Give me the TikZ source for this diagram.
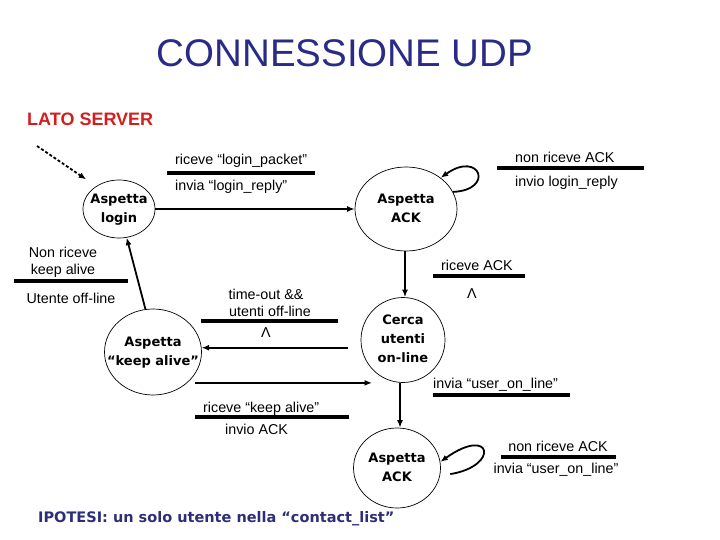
\documentclass[tikz,border=0pt]{standalone}
\usepackage{fontspec}
\setmainfont{Liberation Sans}
\newfontfamily\djv{DejaVu Sans}
\usetikzlibrary{shapes.geometric,arrows.meta}
\definecolor{navy}{RGB}{42,42,135}
\definecolor{ipnavy}{RGB}{45,45,120}
\definecolor{srvred}{RGB}{212,30,30}
\newcommand{\stt}[1]{\makebox[0pt]{\begin{tabular}{@{}c@{}}#1\end{tabular}}}
\tikzset{
  st/.style={ellipse, draw, line width=0.7pt, inner sep=0pt,
    font=\djv\fontsize{13}{19}\selectfont\bfseries},
  arr/.style={line width=1.8pt, -{Latex[length=7.5pt,width=6pt]}},
  initarr/.style={line width=1.8pt, dash pattern=on 3pt off 2pt, -{Latex[length=7.5pt,width=6pt]}},
  bar/.style={line width=3.3pt},
  lbl/.style={font=\fontsize{14.3}{16}\selectfont, inner sep=0pt},
}
\begin{document}
\begin{tikzpicture}[x=1pt,y=-1pt]
\useasboundingbox (0,0) rectangle (720,540);

% title
\node[anchor=base, inner sep=0pt, text=navy, font=\fontsize{38.5}{40}\selectfont] (title) at (345,67) {CONNESSIONE UDP};
\node[anchor=base west, inner sep=0pt, text=srvred, font=\fontsize{18}{20}\selectfont\bfseries] (lato) at (27,126) {LATO SERVER};

% states
\node[st, minimum width=72pt, minimum height=58pt] (login) at (119,209) {\stt{Aspetta\\login}};
\node[st, minimum width=102pt, minimum height=84pt] (ack1) at (406,209) {\stt{Aspetta\\ACK}};
\node[st, minimum width=84pt, minimum height=85pt] (cerca) at (403,340) {\raisebox{-4pt}{\stt{Cerca\\utenti\\on-line}}};
\node[st, minimum width=97pt, minimum height=86pt] (keep) at (153,352) {\stt{Aspetta\\“keep alive”}};
\node[st, minimum width=87pt, minimum height=80pt] (ack2) at (397,468) {\raisebox{-2pt}{\stt{Aspetta\\ACK}}};

% initial arrow
\coordinate (init) at (37,146);
\draw[initarr, shorten >=12pt] (init) -- (login.135);

% transitions
\draw[arr] (login.east) -- (ack1.west |- login.east);
\draw[arr] (ack1.20) .. controls (495,190) and (480,150) .. (ack1.42);
\draw[arr] (ack1.south -| 405,0) -- (cerca.north -| 405,0);
\draw[arr] ([xshift=-13pt]cerca.west |- keep.5) -- (keep.5);
\draw[arr] (keep.100) -- (login.-75);
\draw[arr] ([xshift=8pt]keep.-42) -- ([xshift=-31pt]cerca.south |- keep.-42);
\draw[arr] (cerca.south -| 400,0) -- (ack2.north -| 400,0);
\draw[arr] ([xshift=10pt]ack2.-8) .. controls (500,466) and (492,425) .. (ack2.8);

% labels: login -> ack1
\node[lbl, anchor=base west] (t1a) at (175,165) {riceve “login\_packet”};
\draw[bar] (167,173) -- (315,173);
\node[lbl, anchor=base west] (t1b) at (175,191) {invia “login\_reply”};

% ack1 self loop
\node[lbl, anchor=base west] (t2a) at (515,163) {non riceve ACK};
\draw[bar] (497,168) -- (644,168);
\node[lbl, anchor=base west] (t2b) at (515,187) {invio login\_reply};

% keep -> login
\node[lbl, anchor=base] (t3a) at (63,258) {Non riceve};
\node[lbl, anchor=base] (t3b) at (63,274) {keep alive};
\draw[bar] (14,281) -- (128,281);
\node[lbl, anchor=base] (t3c) at (71,303) {Utente off-line};

% ack1 -> cerca
\node[lbl, anchor=base west] (t4a) at (441,270) {riceve ACK};
\draw[bar] (433,276) -- (525,276);
\node[lbl, anchor=base] (t4b) at (472,298) {Λ};

% cerca -> keep
\node[lbl, anchor=base] (t5a) at (266,299) {time-out \&\&};
\node[lbl, anchor=base] (t5b) at (270,316) {utenti off-line};
\draw[bar] (201,321) -- (338,321);
\node[lbl, anchor=base] (t5c) at (266,337) {Λ};

% cerca -> ack2
\node[lbl, anchor=base west] (t6a) at (433,388) {invia “user\_on\_line”};
\draw[bar] (433,395) -- (570,395);

% keep -> cerca
\node[lbl, anchor=base west] (t7a) at (203,412) {riceve “keep alive”};
\draw[bar] (195,417) -- (349,417);
\node[lbl, anchor=base west] (t7b) at (225,434) {invio ACK};

% ack2 self loop
\node[lbl, anchor=base] (t8a) at (558,451) {non riceve ACK};
\draw[bar] (501,457) -- (616,457);
\node[lbl, anchor=base] (t8b) at (556,473) {invia “user\_on\_line”};

% hypothesis
\node[anchor=base west, inner sep=0pt, text=ipnavy, font=\djv\fontsize{14.5}{16}\selectfont\bfseries] (ipo) at (38,522) {IPOTESI: un solo utente nella “contact\_list”};
\end{tikzpicture}
\end{document}
